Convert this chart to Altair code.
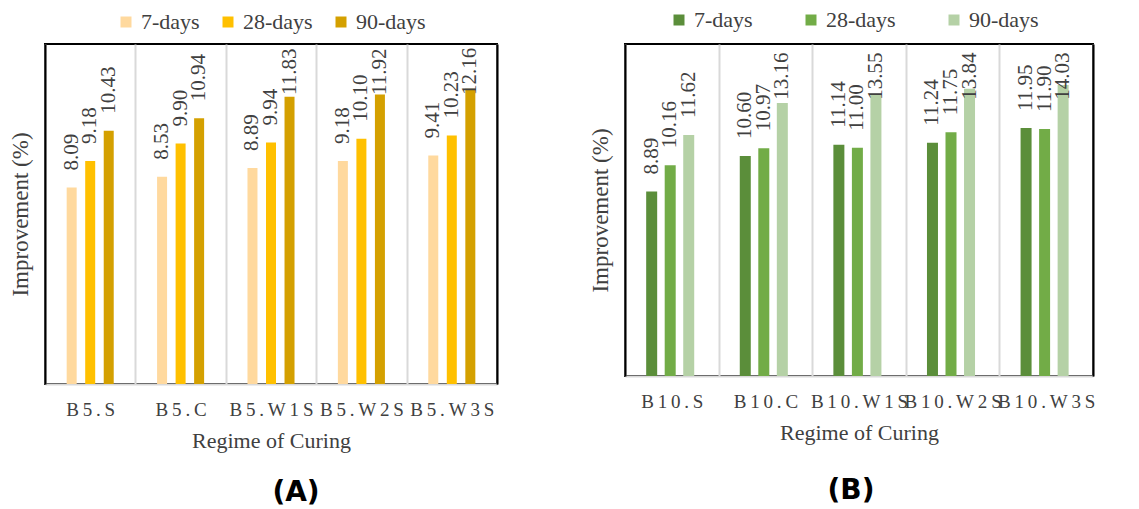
import altair as alt
import pandas as pd

series = ["7-days", "28-days", "90-days"]

cats_a = ["B5.S", "B5.C", "B5.W1S", "B5.W2S", "B5.W3S"]
a_7 = [8.09, 8.53, 8.89, 9.18, 9.41]
a_28 = [9.18, 9.90, 9.94, 10.10, 10.23]
a_90 = [10.43, 10.94, 11.83, 11.92, 12.16]

cats_b = ["B10.S", "B10.C", "B10.W1S", "B10.W2S", "B10.W3S"]
b_7 = [8.89, 10.60, 11.14, 11.24, 11.95]
b_28 = [10.16, 10.97, 11.00, 11.75, 11.90]
b_90 = [11.62, 13.16, 13.55, 13.84, 14.03]

colors_a = ["#FFD99E", "#FFC000", "#D4A000"]
colors_b = ["#5B8E3A", "#72AC47", "#B5D1A6"]

SERIF = "Liberation Serif"
TXT = "#404040"


def make_df(cats, vals):
    rows = []
    for s, vs in zip(series, vals):
        for c, v in zip(cats, vs):
            rows.append({"regime": c, "series": s, "value": v})
    return pd.DataFrame(rows)


def panel(cats, vals, colors, ymax, cap, width, height, bar_w,
          legend_x, legend_y, col_pad, title, title_offset, title_dx):
    df = make_df(cats, vals)
    base = alt.Chart(df)
    x = alt.X(
        "regime:N", sort=cats,
        scale=alt.Scale(paddingInner=0, paddingOuter=0),
        axis=alt.Axis(
            title="Regime of Curing", labelAngle=0, ticks=False,
            labelExpr="join(split(datum.label, ''), '\u2009')",
            labelFont=SERIF, labelFontSize=19, labelColor=TXT, labelPadding=16,
            labelOverlap=False,
            domainColor="#d9d9d9", domainWidth=2,
            grid=True, gridColor="#d9d9d9", gridWidth=2, tickBand="extent",
            titleFont=SERIF, titleFontSize=22, titleFontWeight="normal",
            titleColor=TXT, titlePadding=11,
        ),
    )
    xo = alt.XOffset("series:N", sort=series,
                     scale=alt.Scale(domain=series, paddingInner=0, paddingOuter=0.94))
    yscale = alt.Scale(domain=[0, ymax], nice=False, zero=True)
    bars = base.mark_bar(width=bar_w).encode(
        x=x, xOffset=xo,
        y=alt.Y("value:Q", scale=yscale, axis=alt.Axis(
            title="Improvement (%)", labels=False, ticks=False, grid=False,
            domainColor="black", domainWidth=2, zindex=1,
            titleFont=SERIF, titleFontSize=23, titleFontWeight="normal",
            titleColor=TXT, titlePadding=13)),
        color=alt.Color("series:N", sort=series,
                        scale=alt.Scale(domain=series, range=colors),
                        legend=alt.Legend(
                            title=None, orient="none", legendX=legend_x, legendY=legend_y,
                            direction="horizontal", symbolType="square", symbolSize=121,
                            symbolStrokeWidth=0, labelFont=SERIF, labelFontSize=22,
                            labelColor=TXT, labelOffset=4, columnPadding=col_pad,
                            padding=0)),
    )
    labels = base.transform_calculate(
        ypos=f"min(datum.value, {cap})"
    ).mark_text(
        angle=270, align="left", baseline="middle", dx=17,
        font=SERIF, fontSize=21, color=TXT,
    ).encode(
        x=x, xOffset=xo,
        y=alt.Y("ypos:Q", scale=yscale, axis=alt.Axis(
            orient="right", title="", labels=False, ticks=False, grid=False,
            domainColor="black", domainWidth=2, zindex=1)),
        text=alt.Text("value:Q", format=".2f"),
    )
    return alt.layer(bars, labels).resolve_axis(y="independent").properties(
        width=width, height=height,
        title=alt.TitleParams(title, orient="bottom", anchor="middle",
                              font="DejaVu Sans", fontSize=28, fontWeight="bold",
                              color="black", offset=title_offset, dx=title_dx),
    )


pa = panel(cats_a, [a_7, a_28, a_90], colors_a, 14, 11.2, 452, 340, 10,
           70, -33, 17, "(A)", 28, 25)
pb = panel(cats_b, [b_7, b_28, b_90], colors_b, 16, 12.5, 468, 332, 11,
           43, -35, 47, "(B)", 34, -8)

chart = alt.hconcat(pa, pb, spacing=90).resolve_scale(
    x="independent", y="independent", color="independent"
).configure_view(stroke="black", strokeWidth=2).properties(padding=0)

chart.save("out.html", embed_options={"renderer": "svg", "actions": False})
